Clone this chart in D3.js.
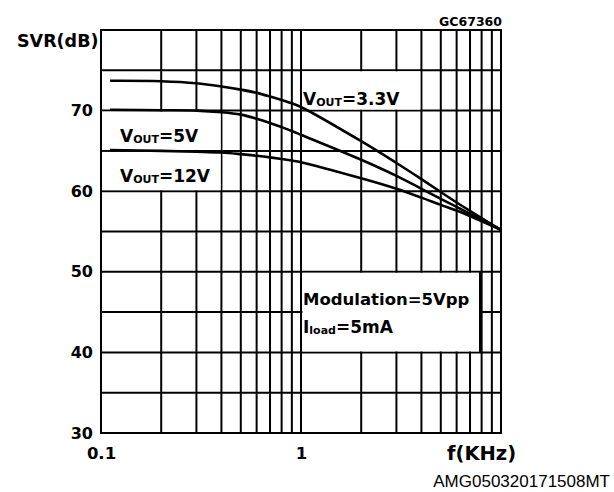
<!DOCTYPE html>
<html>
<head>
<meta charset="utf-8">
<script src="https://cdn.jsdelivr.net/npm/d3@7"></script>
<style>
  body { margin: 0; background: #fff; }
  svg text { font-family: "DejaVu Sans", sans-serif; font-weight: bold; fill: #000; }
</style>
</head>
<body>
<div id="chart"></div>
<script>
// frequency points (KHz)
var freq = [0.111, 0.2, 0.3, 0.4, 0.5, 0.6, 0.7, 0.8, 0.9, 1, 2, 3, 4, 5, 6, 10];

// SVR (dB) for each output voltage
var svr33 = [73.7, 73.65, 73.4, 73.0, 72.6, 72.2, 71.75, 71.32, 70.9, 70.45, 66.2, 63.5, 61.5, 59.9, 58.6, 55.2];
var svr5  = [70.1, 70.05, 70.0, 69.8, 69.5, 69.0, 68.47, 67.95, 67.47, 67.0, 63.9, 61.9, 60.3, 59.05, 58.05, 55.2];
var svr12 = [65.1, 65.0, 64.9, 64.8, 64.6, 64.4, 64.2, 64.0, 63.8, 63.6, 61.6, 60.3, 59.2, 58.3, 57.6, 55.2];

var yTicks = [30, 40, 50, 60, 70];
var xTicks = [0.1, 1];
var yGrid = [35, 40, 45, 50, 55, 60, 65, 70, 75];
var xGrid = [0.2, 0.3, 0.4, 0.5, 0.6, 0.7, 0.8, 0.9, 1, 2, 3, 4, 5, 6, 7, 8, 9];

var width = 614, height = 492;

var svg = d3.select("#chart").append("svg")
	.attr("width", width)
	.attr("height", height);

// scales
var x = d3.scaleLog().domain([0.1, 10]).range([101, 501]);
var y = d3.scaleLinear().domain([30, 80]).range([433, 30]);

// grid
svg.append("g").selectAll("line")
	.data(xGrid).enter()
	.append("line")
	.attr("x1", function(d) { return x(d); })
	.attr("x2", function(d) { return x(d); })
	.attr("y1", y(30))
	.attr("y2", y(80))
	.attr("stroke", "#000")
	.attr("stroke-width", 2);

svg.append("g").selectAll("line")
	.data(yGrid).enter()
	.append("line")
	.attr("x1", x(0.1))
	.attr("x2", x(10))
	.attr("y1", function(d) { return y(d); })
	.attr("y2", function(d) { return y(d); })
	.attr("stroke", "#000")
	.attr("stroke-width", 2);

// white label boxes that hide the grid
var boxes = [
	{ f0: 1.005, f1: 3.95, v0: 70, v1: 75 },
	{ f0: 0.1, f1: 0.397, v0: 65, v1: 70 },
	{ f0: 0.1, f1: 0.397, v0: 60, v1: 65 },
	{ f0: 1.005, f1: 7.85, v0: 40, v1: 50 }
];
svg.append("g").selectAll("rect")
	.data(boxes).enter()
	.append("rect")
	.attr("x", function(d) { return x(d.f0) + 1; })
	.attr("y", function(d) { return y(d.v1) + 1; })
	.attr("width", function(d) { return x(d.f1) - x(d.f0) - 1; })
	.attr("height", function(d) { return y(d.v0) - y(d.v1) - 2; })
	.attr("fill", "#fff");

// right border of the modulation box
svg.append("line")
	.attr("x1", x(7.85)).attr("x2", x(7.85))
	.attr("y1", y(50)).attr("y2", y(40))
	.attr("stroke", "#000").attr("stroke-width", 2);

// frame
svg.append("rect")
	.attr("x", x(0.1))
	.attr("y", y(80))
	.attr("width", x(10) - x(0.1))
	.attr("height", y(30) - y(80))
	.attr("fill", "none")
	.attr("stroke", "#000")
	.attr("stroke-width", 2);

// curves
var line = d3.line()
	.x(function(d) { return x(d[0]); })
	.y(function(d) { return y(d[1]); })
	.curve(d3.curveCatmullRom.alpha(0.5));

[svr33, svr5, svr12].forEach(function(series) {
	svg.append("path")
		.datum(d3.zip(freq, series))
		.attr("d", line)
		.attr("fill", "none")
		.attr("stroke", "#000")
		.attr("stroke-width", 2.6);
});

// axes (labels only)
var yAxis = svg.append("g")
	.attr("transform", "translate(" + x(0.1) + ",0)")
	.call(d3.axisLeft(y).tickValues(yTicks).tickSize(0).tickPadding(8));
yAxis.select(".domain").remove();
yAxis.selectAll("text")
	.attr("font-family", "DejaVu Sans").attr("font-weight", "bold")
	.attr("font-size", 16);

var xAxis = svg.append("g")
	.attr("transform", "translate(0," + y(30) + ")")
	.call(d3.axisBottom(x).tickValues(xTicks).tickSize(0).tickPadding(14)
		.tickFormat(function(d) { return d === 1 ? "1" : "0.1"; }));
xAxis.select(".domain").remove();
xAxis.selectAll("text")
	.attr("font-family", "DejaVu Sans").attr("font-weight", "bold")
	.attr("font-size", 16.5);

// titles
svg.append("text").attr("x", 17).attr("y", 47).attr("font-size", 17.5).text("SVR(dB)");
svg.append("text").attr("x", 502).attr("y", 26).attr("text-anchor", "end").attr("font-size", 12.5).text("GC67360");
svg.append("text").attr("x", 447).attr("y", 460).attr("font-size", 19.5).text("f(KHz)");
svg.append("text").attr("x", 610).attr("y", 487).attr("text-anchor", "end")
	.style("font-family", "'Liberation Sans', Arial, sans-serif").style("font-weight", "normal")
	.attr("font-size", 17).text("AMG050320171508MT");

// curve labels with subscripts
function subLabel(px, py, main, sub, rest) {
	var t = svg.append("text").attr("x", px).attr("y", py).attr("font-size", 17);
	t.append("tspan").text(main);
	t.append("tspan").attr("font-size", 11).attr("dy", 1).text(sub);
	t.append("tspan").attr("dy", -1).text(rest);
}
subLabel(303, 105, "V", "OUT", "=3.3V");
subLabel(120, 142, "V", "OUT", "=5V");
subLabel(120, 182, "V", "OUT", "=12V");

svg.append("text").attr("x", 303).attr("y", 305).attr("font-size", 16.5).text("Modulation=5Vpp");
subLabel(303, 333, "I", "load", "=5mA");
</script>
</body>
</html>
